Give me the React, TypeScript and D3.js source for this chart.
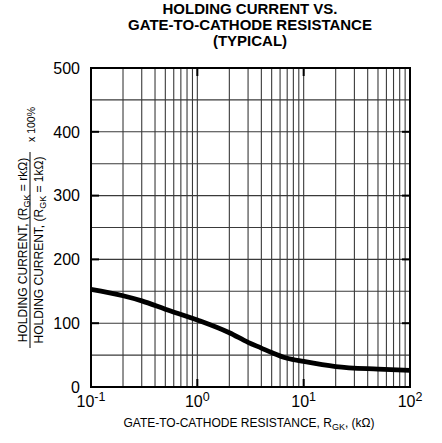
import React from "react";
import * as d3 from "d3";

const titleLines = ["HOLDING CURRENT VS.", "GATE-TO-CATHODE RESISTANCE", "(TYPICAL)"];
const rgk = [0.1, 0.2, 0.3, 0.5, 1, 2, 3, 4, 5, 7, 10, 20, 50, 100];
const holdPct = [153, 143, 135, 122, 105, 85, 70, 61, 54, 45, 40, 32, 28, 26];
const yTicks = [0, 100, 200, 300, 400, 500];
const yGrid = [50, 100, 150, 200, 250, 300, 350, 400, 450];
const xDecadeExps = [-1, 0, 1, 2];

const W = 442;
const H = 443;
const M = { left: 91, right: 410, top: 68, bottom: 387 };
const FONT = "'Liberation Sans', Arial, Helvetica, sans-serif";

export default function App() {
  const x = d3.scaleLog().domain([0.1, 100]).range([M.left, M.right]);
  const y = d3.scaleLinear().domain([0, 500]).range([M.bottom, M.top]);

  const minor: number[] = [];
  for (let e = -1; e < 2; e++) {
    for (let k = 2; k <= 9; k++) minor.push(k * Math.pow(10, e));
  }
  const vGrid = [...minor, 1, 10];

  const line = d3
    .line<number>()
    .x((_, i) => x(rgk[i]))
    .y((d) => y(d))
    .curve(d3.curveMonotoneX);

  const tickLen = 8;
  const fracY = 250;

  return (
    <svg width={W} height={H} style={{ position: "absolute", left: 0, top: 0 }} fontFamily={FONT}>
      <rect width={W} height={H} fill="#fff" />
      {titleLines.map((t, i) => (
        <text key={i} x={250} y={13.8 + i * 16.3} textAnchor="middle" fontSize={15} fontWeight="bold">
          {t}
        </text>
      ))}
      {/* grid */}
      {yGrid.map((v) => (
        <line key={"h" + v} x1={M.left} x2={M.right} y1={y(v)} y2={y(v)} stroke="#3a3a3a" strokeWidth={1.1} />
      ))}
      {vGrid.map((v) => (
        <line key={"v" + v} x1={x(v)} x2={x(v)} y1={M.top} y2={M.bottom} stroke="#3a3a3a" strokeWidth={1.1} />
      ))}
      {/* ticks */}
      {yTicks.slice(1, -1).map((v) => (
        <g key={"yt" + v}>
          <line x1={M.left} x2={M.left + tickLen} y1={y(v)} y2={y(v)} stroke="#000" strokeWidth={2} />
          <line x1={M.right} x2={M.right - tickLen} y1={y(v)} y2={y(v)} stroke="#000" strokeWidth={2} />
        </g>
      ))}
      {xDecadeExps.slice(1, -1).map((e) => (
        <g key={"xt" + e}>
          <line x1={x(Math.pow(10, e))} x2={x(Math.pow(10, e))} y1={M.bottom} y2={M.bottom - tickLen} stroke="#000" strokeWidth={2} />
          <line x1={x(Math.pow(10, e))} x2={x(Math.pow(10, e))} y1={M.top} y2={M.top + tickLen} stroke="#000" strokeWidth={2} />
        </g>
      ))}
      {/* frame */}
      <rect x={M.left} y={M.top} width={M.right - M.left} height={M.bottom - M.top} fill="none" stroke="#000" strokeWidth={2} />
      {/* curve */}
      <path d={line(holdPct) || ""} fill="none" stroke="#000" strokeWidth={4.8} strokeLinejoin="round" strokeLinecap="butt" />
      {/* y tick labels */}
      {yTicks.map((v) => (
        <text key={"yl" + v} x={80} y={y(v)} dy="0.36em" textAnchor="end" fontSize={16}>
          {v}
        </text>
      ))}
      {/* x tick labels */}
      {xDecadeExps.map((e) => (
        <text key={"xl" + e} x={x(Math.pow(10, e))} y={407} textAnchor="middle" fontSize={16}>
          10
          <tspan fontSize={12.5} dy={-6}>
            {e}
          </tspan>
        </text>
      ))}
      {/* x axis title */}
      <text x={249} y={427} textAnchor="middle" fontSize={12}>
        GATE-TO-CATHODE RESISTANCE, R
        <tspan fontSize={9} dy={2.5}>GK</tspan>
        <tspan dy={-2.5}>, (kΩ)</tspan>
      </text>
      {/* y axis title */}
      <g transform={`translate(0, ${fracY}) rotate(-90)`}>
        <text x={0} y={27} textAnchor="middle" fontSize={12}>
          HOLDING CURRENT, (R<tspan fontSize={9} dy={2.5}>GK</tspan>
          <tspan dy={-2.5}> = rkΩ)</tspan>
        </text>
        <line x1={-98} x2={98} y1={30} y2={30} stroke="#000" strokeWidth={1} />
        <text x={0} y={43} textAnchor="middle" fontSize={12}>
          HOLDING CURRENT, (R<tspan fontSize={9} dy={2.5}>GK</tspan>
          <tspan dy={-2.5}> = 1kΩ)</tspan>
        </text>
        <text x={108} y={35} textAnchor="start" fontSize={10.5}>
          x 100%
        </text>
      </g>
    </svg>
  );
}
